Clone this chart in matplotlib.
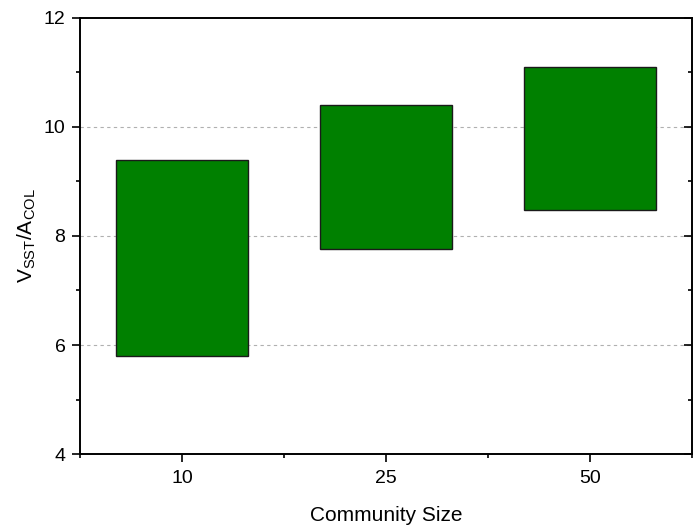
import matplotlib
matplotlib.use("Agg")
import matplotlib.pyplot as plt
from matplotlib.ticker import MultipleLocator, FixedLocator

plt.rcParams['font.family'] = ['Liberation Sans', 'DejaVu Sans']
plt.rcParams['mathtext.fontset'] = 'custom'
plt.rcParams['mathtext.rm'] = 'Liberation Sans'

categories = ['10', '25', '50']
lows = [5.8, 7.76, 8.48]
highs = [9.39, 10.40, 11.10]

fig = plt.figure(figsize=(7, 5.32), dpi=100)
ax = fig.add_axes([0.1143, 0.1466, 0.8743, 0.8196])

pos = list(range(1, len(categories) + 1))
heights = [h - l for h, l in zip(highs, lows)]
ax.bar(pos, heights, bottom=lows, width=0.65, color='#008000', edgecolor='#1a1a1a', linewidth=1.0, zorder=3)

ax.set_xlim(0.5, 3.5)
ax.set_ylim(4, 12)
ax.set_xticks(pos)
ax.set_xticklabels(categories)
ax.xaxis.set_minor_locator(FixedLocator([0.5, 1.5, 2.5, 3.5]))
ax.yaxis.set_major_locator(MultipleLocator(2))
ax.yaxis.set_minor_locator(MultipleLocator(1))

for y in [6, 8, 10]:
    ax.axhline(y, color='#b0b0b0', linestyle=(0, (3, 3)), linewidth=0.8, zorder=1)

ax.tick_params(axis='both', which='major', direction='out', length=5.5, width=1.2, labelsize=14, pad=5)
ax.tick_params(axis='both', which='minor', direction='out', length=3, width=1.2)
ax.tick_params(axis='x', which='major', pad=6)

# right-side inward ticks
ax2 = ax.twinx()
ax2.set_ylim(ax.get_ylim())
ax2.yaxis.set_major_locator(MultipleLocator(2))
ax2.yaxis.set_minor_locator(MultipleLocator(1))
ax2.tick_params(axis='y', which='major', direction='in', length=5.5, width=1.2, labelright=False)
ax2.tick_params(axis='y', which='minor', direction='in', length=3, width=1.2)

for a in (ax, ax2):
    for s in a.spines.values():
        s.set_linewidth(1.2)

ax.set_xlabel('Community Size', fontsize=15, labelpad=14)
ax.set_ylabel(r'V$_\mathregular{SST}$/A$_\mathregular{COL}$', fontsize=15, labelpad=4)

fig.savefig('out.png', dpi=100)
